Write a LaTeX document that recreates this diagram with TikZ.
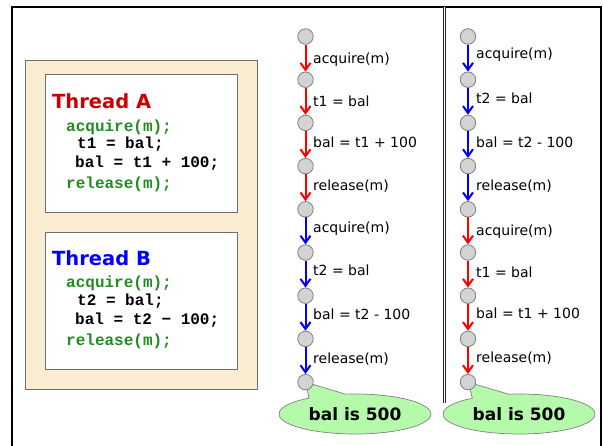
\documentclass[tikz,border=0pt]{standalone}
\usepackage{fontspec}
\setmainfont{DejaVu Sans}
\setmonofont{Liberation Mono}
\usetikzlibrary{arrows.meta,shapes.callouts,shapes.geometric}
\definecolor{tanfill}{RGB}{250,236,208}
\definecolor{boxgray}{RGB}{110,110,110}
\definecolor{codegreen}{RGB}{34,140,34}
\definecolor{titlered}{RGB}{204,0,0}
\definecolor{titleblue}{RGB}{0,0,255}
\definecolor{circgray}{RGB}{211,211,211}
\definecolor{calloutgreen}{RGB}{180,250,170}
\pgfdeclarelayer{background}
\pgfsetlayers{background,main}
\begin{document}
\begin{tikzpicture}[x=1pt,y=-1pt,
  state/.style={circle,draw=gray,fill=circgray,line width=0.8pt,minimum size=15.5pt,inner sep=0pt},
  redarr/.style={draw=red,line width=2pt,-{Straight Barb[length=7pt,width=10pt]}},
  bluearr/.style={draw=blue,line width=2pt,-{Straight Barb[length=7pt,width=10pt]}},
  lbl/.style={anchor=base west,inner sep=0pt,font=\fontsize{14}{16}\selectfont},
  codeline/.style={anchor=base west,inner sep=0pt,font=\fontsize{16}{18}\selectfont\ttfamily\bfseries},
  title/.style={anchor=base west,inner sep=0pt,font=\fontsize{19.5}{22}\selectfont\bfseries},
  panel/.style={draw=boxgray,line width=0.8pt,anchor=north west,inner sep=0pt},
  bubble/.style={ellipse callout,draw=gray,line width=0.7pt,fill=calloutgreen,minimum width=152pt,minimum height=40pt,inner sep=0pt,callout pointer arc=30,font=\fontsize{17}{20}\selectfont\bfseries}]
\useasboundingbox (0,0) rectangle (603,445);
% outer frame
\draw[line width=2.5pt] (12,450) -- (12,7) -- (601,7) -- (601,450);
\draw[double distance=1.6pt,line width=0.9pt,draw=black!85] (444.5,7) -- (444.5,403);
% code panels
\node[panel,fill=tanfill,minimum width=232pt,minimum height=329pt] (tan) at (25,60) {};
\node[panel,fill=white,minimum width=192pt,minimum height=138pt] (boxA) at (45,74) {};
\node[panel,fill=white,minimum width=192pt,minimum height=137pt] (boxB) at (45,232) {};
\node[title,text=titlered] (tA) at (52,108) {Thread A};
\node[codeline,text=codegreen] (a1c) at (66,131) {acquire(m);};
\node[codeline] (a2c) at (77,148) {t1 = bal;};
\node[codeline] (a3c) at (75,167) {bal = t1 + 100;};
\node[codeline,text=codegreen] (a4c) at (66,188) {release(m);};
\node[title,text=titleblue] (tB) at (52,265) {Thread B};
\node[codeline,text=codegreen] (b1c) at (66,287) {acquire(m);};
\node[codeline] (b2c) at (77,305) {t2 = bal;};
\node[codeline] (b3c) at (75,324) {bal = t2 − 100;};
\node[codeline,text=codegreen] (b4c) at (66,345) {release(m);};
% chains
\foreach \i in {1,...,9}{
  \node[state] (p\i) at (305.5,{36.5+43.2*(\i-1)}) {};
  \node[state] (q\i) at (468,{36.5+43.2*(\i-1)}) {};
}
\draw[redarr] (p1) -- (p2);
\draw[redarr] (p2) -- (p3);
\draw[redarr] (p3) -- (p4);
\draw[redarr] (p4) -- (p5);
\draw[bluearr] (p5) -- (p6);
\draw[bluearr] (p6) -- (p7);
\draw[bluearr] (p7) -- (p8);
\draw[bluearr] (p8) -- (p9);
\draw[bluearr] (q1) -- (q2);
\draw[bluearr] (q2) -- (q3);
\draw[bluearr] (q3) -- (q4);
\draw[bluearr] (q4) -- (q5);
\draw[redarr] (q5) -- (q6);
\draw[redarr] (q6) -- (q7);
\draw[redarr] (q7) -- (q8);
\draw[redarr] (q8) -- (q9);
% labels chain 1
\node[lbl] (l1) at (313,63) {acquire(m)};
\node[lbl] (l2) at (313,106) {t1 = bal};
\node[lbl] (l3) at (313,147) {bal = t1 + 100};
\node[lbl] (l4) at (313,190) {release(m)};
\node[lbl] (l5) at (313,232) {acquire(m)};
\node[lbl] (l6) at (313,275) {t2 = bal};
\node[lbl] (l7) at (313,319) {bal = t2 - 100};
\node[lbl] (l8) at (313,363) {release(m)};
% labels chain 2
\node[lbl] (m1) at (476,58) {acquire(m)};
\node[lbl] (m2) at (476,103) {t2 = bal};
\node[lbl] (m3) at (476,147) {bal = t2 - 100};
\node[lbl] (m4) at (476,190) {release(m)};
\node[lbl] (m5) at (476,235) {acquire(m)};
\node[lbl] (m6) at (476,277) {t1 = bal};
\node[lbl] (m7) at (476,318) {bal = t1 + 100};
\node[lbl] (m8) at (476,362) {release(m)};
% callouts
\begin{pgfonlayer}{background}
\node[bubble,callout absolute pointer={(p9)}] (c1) at (355,414) {bal is 500};
\node[bubble,callout absolute pointer={(q9)}] (c2) at (519,414) {bal is 500};
\end{pgfonlayer}
\end{tikzpicture}
\end{document}
